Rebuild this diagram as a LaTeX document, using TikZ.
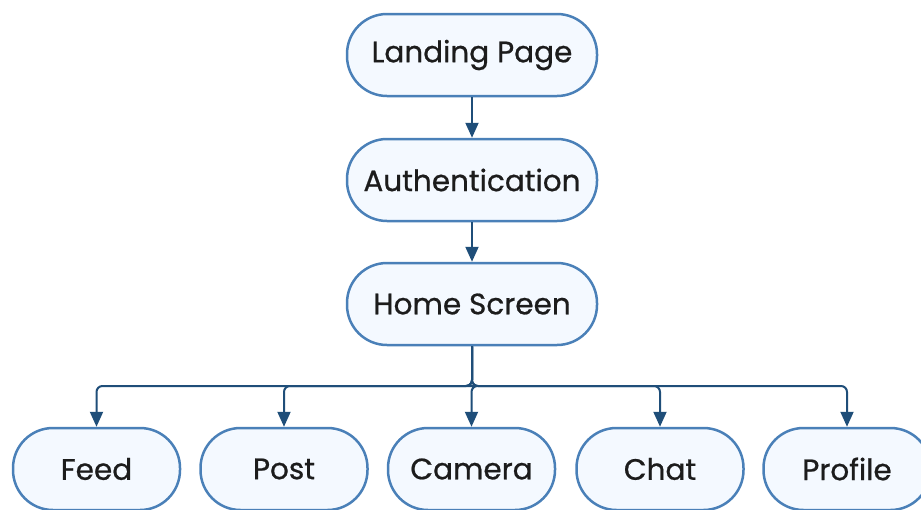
\documentclass[tikz,border=0pt]{standalone}
\usepackage{fontspec}
\setmainfont{Poppins}
\newfontfamily\nodefont[FakeBold=0.7]{Poppins}
\usetikzlibrary{arrows.meta}
\definecolor{nodeborder}{HTML}{4A80B8}
\definecolor{nodefill}{HTML}{F4F9FF}
\definecolor{arrowcol}{HTML}{1F4E79}
\definecolor{textcol}{HTML}{1C1C1C}
\begin{document}
\begin{tikzpicture}[x=1pt,y=-1pt,
  box/.style={draw=nodeborder, fill=nodefill, line width=2.5pt, rounded corners=40pt,
    minimum height=82pt, inner sep=0pt, text=textcol, font=\nodefont\fontsize{29.5}{34}\selectfont},
  topbox/.style={box, minimum width=250pt},
  leaf/.style={box, minimum width=167pt},
  conn/.style={draw=arrowcol, line width=2pt, -{Triangle[length=15pt,width=13pt]}, rounded corners=6pt}
]
\useasboundingbox (0,0) rectangle (921,509);
\node[topbox] (land) at (472,55) {Landing Page};
\node[topbox] (auth) at (472,180) {Authentication};
\node[topbox] (home) at (472,304) {Home Screen};
\node[leaf] (feed) at (96.5,469) {Feed};
\node[leaf] (post) at (284,469) {Post};
\node[leaf] (cam) at (471.5,469) {Camera};
\node[leaf] (chat) at (660,469) {Chat};
\node[leaf] (prof) at (847,469) {Profile};
\draw[conn] (land) -- (auth);
\draw[conn] (auth) -- (home);
\foreach \n in {feed,post,cam,chat,prof}{
  \draw[conn] (home.south) -- (home.south |- 0,386) -- (\n.north |- 0,386) -- (\n.north);
}
\end{tikzpicture}
\end{document}
